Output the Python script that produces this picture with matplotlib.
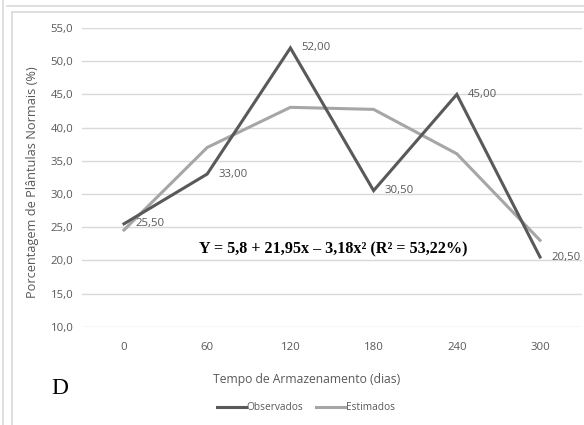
import matplotlib
matplotlib.use("Agg")
import matplotlib.pyplot as plt
from matplotlib.lines import Line2D

dias = ["0", "60", "120", "180", "240", "300"]
observados = [25.5, 33.0, 52.0, 30.5, 45.0, 20.5]
estimados = [24.57, 37.0, 43.05, 42.74, 36.05, 23.02]
rotulos_obs = ["25,50", "33,00", "52,00", "30,50", "45,00", "20,50"]
yticks = [10, 15, 20, 25, 30, 35, 40, 45, 50, 55]
ytick_labels = ["10,0", "15,0", "20,0", "25,0", "30,0", "35,0", "40,0", "45,0", "50,0", "55,0"]

W, H = 584, 425
fig = plt.figure(figsize=(W / 100, H / 100), dpi=100)
fig.patch.set_facecolor("white")

txt_color = "#595959"
font = "Open Sans"

ax = fig.add_axes([82.4 / W, 1 - 326.7 / H, (581.6 - 82.4) / W, (326.7 - 28) / H])
x = list(range(len(dias)))
ax.plot(x, observados, color="#595959", lw=2.2, zorder=3, solid_joinstyle="miter")
ax.plot(x, estimados, color="#A6A6A6", lw=2.2, zorder=2, solid_joinstyle="miter")

for xi, yi, lab in zip(x, observados, rotulos_obs):
    ax.annotate(lab, (xi, yi), xytext=(8, 0), textcoords="offset points",
                ha="left", va="center", fontsize=8.2, color=txt_color, family=font)

ax.set_xlim(-0.5, 5.5)
ax.set_ylim(10, 55)
ax.set_yticks(yticks)
ax.set_yticklabels(ytick_labels, family=font, fontsize=8.2, color=txt_color)
ax.set_xticks(x)
ax.set_xticklabels(dias, family=font, fontsize=8.2, color=txt_color)
ax.tick_params(axis="y", length=0, pad=6.5)
ax.tick_params(axis="x", length=0, pad=11)
ax.grid(axis="y", color="#D9D9D9", lw=1)
ax.set_axisbelow(True)
for s in ax.spines.values():
    s.set_visible(False)

fig.text(33 / W, 1 - 182 / H, "Porcentagem de Plântulas Normais (%)", rotation=90,
         ha="center", va="center", fontsize=9.2, color=txt_color, family=font)
fig.text(307 / W, 1 - 380 / H, "Tempo de Armazenamento (dias)",
         ha="center", va="center", fontsize=8.7, color=txt_color, family=font)

fig.text(333.5 / W, 1 - 249 / H, "Y = 5,8 + 21,95x – 3,18x² (R² = 53,22%)",
         ha="center", va="center", fontsize=11.6, fontweight="bold",
         family="Liberation Serif", color="black")
fig.text(60 / W, 1 - 389 / H, "D", ha="center", va="center", fontsize=17,
         family="Liberation Serif", color="black")

handles = [Line2D([], [], color="#595959", lw=2.2), Line2D([], [], color="#A6A6A6", lw=2.2)]
leg = fig.legend(handles, ["Observados", "Estimados"], loc="center",
                 bbox_to_anchor=(306 / W, 1 - 408 / H), ncol=2, frameon=False,
                 handlelength=2.8, handletextpad=0.1, columnspacing=1.3,
                 prop={"family": font, "size": 7.3})
for t in leg.get_texts():
    t.set_color(txt_color)

# panel borders
border = "#D9D9D9"
fig.add_artist(Line2D([2.5 / W, 2.5 / W], [0, 1], color=border, lw=1.2, transform=fig.transFigure))
fig.add_artist(Line2D([7 / W, 1], [1 - 5.5 / H, 1 - 5.5 / H], color=border, lw=1.2, transform=fig.transFigure))
fig.add_artist(Line2D([11.5 / W, 11.5 / W], [0, 1 - 11.5 / H], color=border, lw=1.2, transform=fig.transFigure))
fig.add_artist(Line2D([11.5 / W, 1], [1 - 11.5 / H, 1 - 11.5 / H], color=border, lw=1.2, transform=fig.transFigure))

fig.savefig("out.png", dpi=100, facecolor="white")
